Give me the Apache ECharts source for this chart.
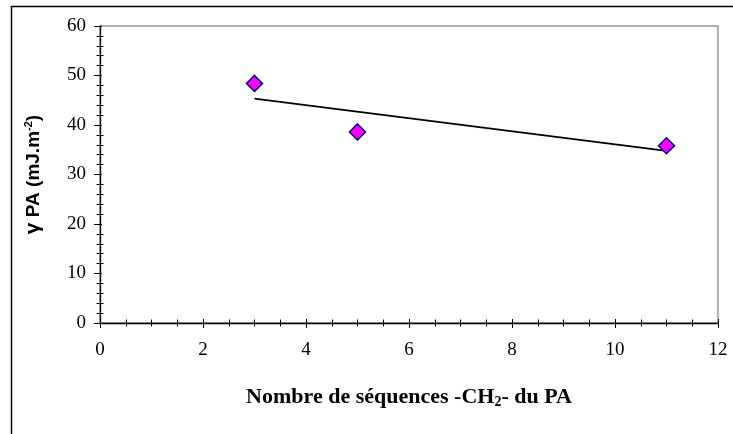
<!DOCTYPE html>
<html>
<head>
<meta charset="utf-8">
<script src="https://cdn.jsdelivr.net/npm/echarts@6/dist/echarts.min.js"></script>
<style>
  html, body { margin: 0; padding: 0; background: #fff; }
  #chart { width: 733px; height: 434px; }
</style>
</head>
<body>
<div id="chart"></div>
<script>
// Number of -CH2- units in the PA chain and the measured surface energy
const chainLength = [3, 5, 11];
const gammaPA = [48.4, 38.6, 35.8];

// Axis ranges and steps
const xRange = [0, 12];
const xStep = 2;
const yRange = [0, 60];
const yStep = 10;

// Least-squares trend line through the measured points
function linearFit(xs, ys) {
  const n = xs.length;
  const mx = xs.reduce((a, b) => a + b, 0) / n;
  const my = ys.reduce((a, b) => a + b, 0) / n;
  let sxy = 0, sxx = 0;
  for (let i = 0; i < n; i++) {
    sxy += (xs[i] - mx) * (ys[i] - my);
    sxx += (xs[i] - mx) * (xs[i] - mx);
  }
  const slope = sxy / sxx;
  return { slope, intercept: my - slope * mx };
}
const fit = linearFit(chainLength, gammaPA);
const xMin = Math.min(...chainLength), xMax = Math.max(...chainLength);
const trend = [[xMin, fit.intercept + fit.slope * xMin], [xMax, fit.intercept + fit.slope * xMax]];

const points = chainLength.map((x, i) => [x, gammaPA[i]]);

const serif = '"Liberation Serif", "Times New Roman", serif';
const sans = '"Liberation Sans", Arial, sans-serif';

const chart = echarts.init(document.getElementById('chart'), null, { renderer: 'canvas' });

// Base axis with labels and outward ticks; a twin axis adds the inward half so ticks cross
function xAxisDef(inside) {
  return {
    type: 'value', position: 'bottom', min: xRange[0], max: xRange[1], interval: xStep,
    axisLine: { show: !inside, lineStyle: { color: '#000', width: 1.3 } },
    axisTick: { show: true, inside: inside, length: inside ? 4 : 5, lineStyle: { color: '#000', width: 1 } },
    minorTick: { show: true, splitNumber: 4, length: 3.5, lineStyle: { color: '#000', width: 1 } },
    axisLabel: inside ? { show: false } : { show: true, margin: 18, fontFamily: serif, fontSize: 19, color: '#000' },
    splitLine: { show: false }, minorSplitLine: { show: false },
    name: inside ? '' : 'Nombre de séquences {b|-CH}{sub|2}{b|- du PA}',
    nameLocation: 'middle', nameGap: 63,
    nameTextStyle: {
      fontFamily: serif, fontSize: 22, fontWeight: 'bold', color: '#000',
      rich: {
        b: { fontFamily: serif, fontSize: 22, fontWeight: 'bold', color: '#000' },
        sub: { fontFamily: serif, fontSize: 14, fontWeight: 'bold', color: '#000', padding: [9, 0, 0, 0] }
      }
    }
  };
}
function yAxisDef(inside) {
  return {
    type: 'value', position: 'left', min: yRange[0], max: yRange[1], interval: yStep,
    axisLine: { show: !inside, lineStyle: { color: '#000', width: 1.3 } },
    axisTick: { show: true, inside: inside, length: inside ? 2 : 6, lineStyle: { color: '#000', width: 1 } },
    minorTick: { show: true, splitNumber: 5, length: 3.5, lineStyle: { color: '#000', width: 1 } },
    axisLabel: inside ? { show: false } : { show: true, margin: 14, fontFamily: serif, fontSize: 19, color: '#000' },
    splitLine: { show: false }, minorSplitLine: { show: false },
    name: inside ? '' : '{g|γ} PA (mJ.m{sup|-2})',
    nameLocation: 'middle', nameRotate: 90, nameGap: 56,
    nameTextStyle: {
      fontFamily: sans, fontSize: 19, fontWeight: 'bold', color: '#000',
      rich: {
        g: { fontFamily: sans, fontSize: 21, fontWeight: 'bold', color: '#000' },
        sup: { fontFamily: sans, fontSize: 11, fontWeight: 'bold', color: '#000', padding: [0, 0, 10, 0] }
      }
    }
  };
}

chart.setOption({
  animation: false,
  backgroundColor: '#fff',
  grid: {
    left: 100, right: 15, top: 26, bottom: 111,
    show: true, borderColor: '#999', borderWidth: 1.5, backgroundColor: '#fff'
  },
  xAxis: [xAxisDef(false), xAxisDef(true)],
  yAxis: [yAxisDef(false), yAxisDef(true)],
  graphic: [{
    type: 'rect', silent: true, z: 100,
    shape: { x: 11.5, y: 6.5, width: 800, height: 500 },
    style: { fill: 'none', stroke: '#000', lineWidth: 1.5 }
  }],
  series: [
    {
      name: 'tendance', type: 'line', data: trend, xAxisIndex: 0, yAxisIndex: 0,
      showSymbol: false, lineStyle: { color: '#000', width: 1.8 }, z: 2
    },
    {
      name: 'γ PA', type: 'scatter', data: points, xAxisIndex: 0, yAxisIndex: 0,
      symbol: 'diamond', symbolSize: 16,
      itemStyle: { color: '#FF00FF', borderColor: '#000080', borderWidth: 1.5, opacity: 1 }, z: 3
    }
  ]
});
</script>
</body>
</html>
